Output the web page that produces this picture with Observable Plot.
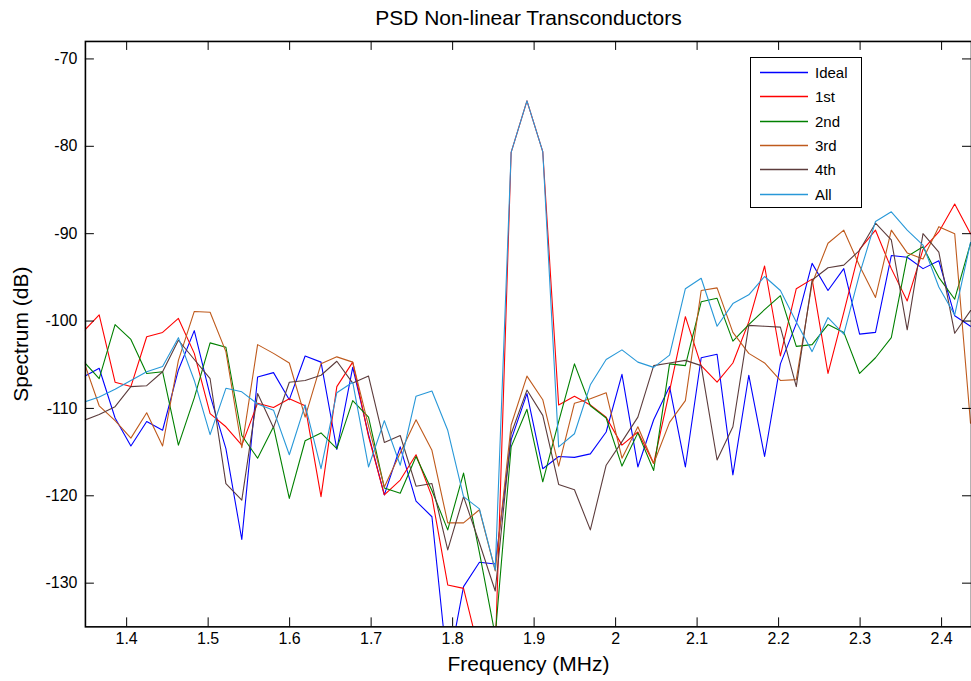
<!DOCTYPE html>
<html>
<head>
<meta charset="utf-8">
<script src="https://cdn.jsdelivr.net/npm/d3@7"></script>
<script src="https://cdn.jsdelivr.net/npm/@observablehq/plot@0.6"></script>
<style>
  html, body { margin: 0; padding: 0; background: #fff; overflow: hidden; }
  #wrap { position: relative; width: 971px; height: 681px; overflow: hidden; }
  #legend { position: absolute; left: 750px; top: 57px; width: 110px; height: 149px;
            border: 1px solid #000; background: #fff;
            font-family: "Liberation Sans", Arial, sans-serif; font-size: 15px; color: #000; }
  #legend svg { position: absolute; left: 0; top: 0; }
</style>
</head>
<body>
<div id="wrap"></div>
<script>
// ---- data ----
const title = "PSD Non-linear Transconductors";
const xLabel = "Frequency (MHz)";
const yLabel = "Spectrum (dB)";
const xTicks = [1.4, 1.5, 1.6, 1.7, 1.8, 1.9, 2, 2.1, 2.2, 2.3, 2.4];
const yTicks = [-130, -120, -110, -100, -90, -80, -70];

const freq = [1.3469, 1.3663, 1.3858, 1.4052, 1.4246, 1.4441, 1.4635, 1.4830, 1.5024, 1.5218,
  1.5413, 1.5607, 1.5802, 1.5996, 1.6190, 1.6385, 1.6579, 1.6774, 1.6968, 1.7162,
  1.7357, 1.7551, 1.7746, 1.7940, 1.8134, 1.8329, 1.8523, 1.8718, 1.8912, 1.9106,
  1.9301, 1.9495, 1.9690, 1.9884, 2.0078, 2.0273, 2.0467, 2.0662, 2.0856, 2.1050,
  2.1245, 2.1439, 2.1634, 2.1828, 2.2022, 2.2217, 2.2411, 2.2606, 2.2800, 2.2994,
  2.3189, 2.3383, 2.3578, 2.3772, 2.3966, 2.4161, 2.4355];

const ideal = [-106.4, -105.4, -111.1, -114.3, -111.5, -112.5, -105.6, -101.1, -108.5, -114.6,
  -125.0, -106.4, -105.9, -109.0, -104.0, -104.7, -114.7, -105.3, -113.0, -119.9,
  -114.4, -120.6, -122.4, -140, -130.4, -127.6, -127.8, -113.6, -108.3, -116.9,
  -115.5, -115.6, -115.2, -112.7, -106.1, -116.7, -111.3, -107.5, -116.7, -104.2,
  -103.8, -117.6, -106.2, -115.5, -104.9, -100.3, -93.4, -96.5, -94.0, -101.5,
  -101.3, -92.5, -92.7, -94.0, -93.1, -99.4, -100.6];

const first = [-101.2, -99.3, -107.0, -107.5, -101.8, -101.3, -99.7, -103.7, -110.6, -112.1,
  -114.2, -109.4, -109.9, -108.9, -109.7, -120.1, -107.5, -104.7, -113.2, -119.9,
  -118.2, -115.3, -120.1, -130.2, -130.6, -138, -138, -80.7, -74.8, -80.6,
  -109.6, -108.6, -109.6, -111.0, -114.2, -112.7, -116.3, -108, -99.5, -105.1,
  -107.0, -104.8, -100.1, -93.7, -104.0, -96.3, -95.2, -106.0, -99, -91.8,
  -89.6, -94.0, -97.7, -91.8, -89.8, -86.6, -90.0];

const second = [-104.6, -106.6, -100.4, -102.1, -106.0, -105.8, -114.2, -108.8, -102.5, -103.0,
  -113.1, -115.7, -112.1, -120.3, -113.7, -112.8, -114.6, -109.1, -111.0, -119.1,
  -119.7, -115.5, -119.4, -123.9, -117.4, -126.5, -136, -114.4, -110.1, -118.4,
  -111.5, -104.9, -109.7, -111.1, -116.6, -112.8, -117.1, -104.9, -105.1, -97.8,
  -97.4, -102.3, -100.4, -98.7, -97.1, -102.9, -102.7, -100.4, -101.3, -106.0,
  -104.2, -101.9, -92.6, -91.5, -95.0, -97.5, -91.1];

const third = [-104.5, -109.7, -111.4, -113.4, -110.5, -114.3, -104.5, -98.9, -99.0, -103.5,
  -114.5, -102.7, -103.7, -104.8, -111.0, -104.9, -104.1, -104.7, -112, -119.0,
  -115.1, -111.3, -114.8, -123.1, -123.1, -121.6, -128.6, -111.9, -106.3, -109.0,
  -116.6, -109.4, -108.9, -108.2, -115.7, -112.1, -116.3, -111.6, -109.1, -96.5,
  -96.2, -101.3, -103.7, -104.8, -106.8, -106.7, -95.7, -91.1, -89.6, -93.7,
  -97.3, -89.6, -92.2, -92.9, -89.2, -90.0, -111.7];

const fourth = [-111.4, -110.7, -109.8, -107.5, -107.4, -105.8, -102.2, -104.4, -106.6, -118.6,
  -120.5, -108.3, -112.2, -107.0, -106.8, -106.2, -104.6, -107.1, -106.3, -113.9,
  -113.1, -118.9, -118.6, -126.2, -120.1, -125.4, -130.9, -112.9, -107.9, -110.8,
  -118.7, -119.3, -123.9, -116.5, -113.8, -111.0, -105.1, -104.8, -104.5, -105.1,
  -115.9, -112.1, -100.5, -100.6, -100.7, -107.5, -95.3, -93.9, -93.6, -91.9,
  -88.8, -90.7, -101.0, -90.0, -92.1, -101.4, -98.8];

const all = [-109.3, -108.7, -107.8, -106.8, -105.8, -105.2, -101.9, -106.8, -113.0, -107.7,
  -108.1, -109.5, -110.2, -115.3, -109.6, -116.9, -108.2, -107.0, -116.7, -111.4,
  -116.5, -108.6, -108.0, -112.5, -120.1, -121.5, -128.5, -80.7, -74.8, -80.6,
  -114.4, -112.9, -107.3, -104.4, -103.3, -104.7, -105.3, -103.9, -96.3, -95.1,
  -100.6, -98.0, -97.0, -94.9, -96.5, -100.1, -103.5, -99.6, -101.5, -94.6,
  -88.6, -87.5, -89.6, -91.3, -96.1, -99.3, -91.0];

const seriesNames = ["Ideal", "1st", "2nd", "3rd", "4th", "All"];
const seriesValues = [ideal, first, second, third, fourth, all];
const seriesColors = ["#0000ff", "#ff0000", "#008000", "#bf5a1c", "#5c3c3c", "#2898d8"];

// ---- build table ----
const rows = seriesNames.flatMap((name, i) =>
  freq.map((f, j) => ({ f, v: seriesValues[i][j], name })));

const W = 972, H = 681, mL = 85, mR = 0, mT = 41, mB = 54;
const plotW = W - mL - mR, plotH = H - mT - mB, tick = 9;
const font = "'Liberation Sans', Arial, Helvetica, sans-serif";

const chart = Plot.plot({
  width: W, height: H,
  marginLeft: mL, marginRight: mR, marginTop: mT, marginBottom: mB,
  style: { fontFamily: font, background: "#fff", color: "#000", overflow: "visible" },
  x: { domain: [1.3494, 2.4367] },
  y: { domain: [-135, -68] },
  color: { domain: seriesNames, range: seriesColors },
  marks: [
    Plot.line(rows, { x: "f", y: "v", z: "name", stroke: "name", strokeWidth: 1.1, clip: true }),
    Plot.ruleX(xTicks, { x: d => d, insetTop: plotH - tick, stroke: "#000", strokeWidth: 1 }),
    Plot.ruleX(xTicks, { x: d => d, insetBottom: plotH - tick, stroke: "#000", strokeWidth: 1 }),
    Plot.ruleY(yTicks, { y: d => d, insetRight: plotW - tick, stroke: "#000", strokeWidth: 1 }),
    Plot.ruleY(yTicks, { y: d => d, insetLeft: plotW - tick, stroke: "#000", strokeWidth: 1 }),
    Plot.frame({ stroke: "#000", strokeWidth: 1.6 }),
    Plot.axisX(xTicks, { tickSize: 0, tickPadding: 6, fontSize: 16, label: null, tickFormat: d => String(d) }),
    Plot.axisY(yTicks, { tickSize: 0, tickPadding: 8, fontSize: 16, label: null, tickFormat: d => String(d) }),
    Plot.text([title], { text: d => d, frameAnchor: "top", lineAnchor: "middle", textAnchor: "middle", dy: -23, fontSize: 21 }),
    Plot.text([xLabel], { text: d => d, frameAnchor: "bottom", lineAnchor: "middle", textAnchor: "middle", dy: 37, fontSize: 21 }),
    Plot.text([yLabel], { text: d => d, frameAnchor: "left", lineAnchor: "middle", textAnchor: "middle", dx: -64, rotate: -90, fontSize: 21 })
  ]
});

const wrap = document.getElementById("wrap");
wrap.appendChild(chart);

// ---- legend (HTML box with SVG swatches) ----
const legend = document.createElement("div");
legend.id = "legend";
const ns = "http://www.w3.org/2000/svg";
const lsvg = document.createElementNS(ns, "svg");
lsvg.setAttribute("width", 110);
lsvg.setAttribute("height", 149);
seriesNames.forEach((name, i) => {
  const cy = Math.round(14 + 24.3 * i) + 0.5;
  const ln = document.createElementNS(ns, "line");
  ln.setAttribute("x1", 9); ln.setAttribute("x2", 57);
  ln.setAttribute("y1", cy); ln.setAttribute("y2", cy);
  ln.setAttribute("stroke", seriesColors[i]);
  ln.setAttribute("stroke-width", 1.3);
  lsvg.appendChild(ln);
  const tx = document.createElementNS(ns, "text");
  tx.setAttribute("x", 64);
  tx.setAttribute("y", cy);
  tx.setAttribute("dy", "0.35em");
  tx.setAttribute("font-size", 15);
  tx.setAttribute("font-family", "Liberation Sans, Arial, sans-serif");
  tx.textContent = name;
  lsvg.appendChild(tx);
});
legend.appendChild(lsvg);
wrap.appendChild(legend);
</script>
</body>
</html>
